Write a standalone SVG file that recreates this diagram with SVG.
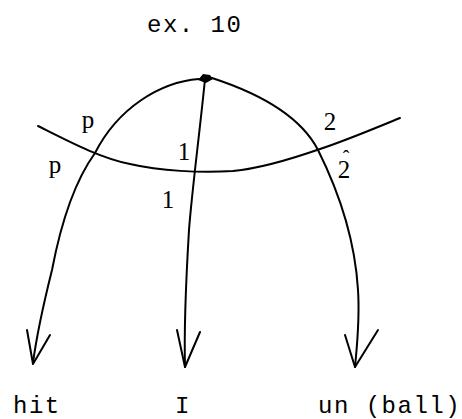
<svg xmlns="http://www.w3.org/2000/svg" width="462" height="419" viewBox="0 0 462 419">
<style>
.ln{fill:none;stroke:#000;stroke-width:2;stroke-linecap:round;stroke-linejoin:round}
.t{font-family:"Liberation Mono","DejaVu Sans Mono",monospace;font-size:24px;letter-spacing:1.5px;fill:#000}
.l{font-family:"Liberation Serif","DejaVu Serif",serif;font-size:25px;fill:#000;text-anchor:middle}
</style>
<rect width="462" height="419" fill="#fff"/>
<text class="t" x="147" y="32">ex. 10</text>
<g id="connectors">
<path class="ln" d="M199,79 C160,82 118,108 95,153 C72,185 60,228 52,270 C42,310 36,340 33,363"/>
<path class="ln" d="M27,330 L33,364 L50,335"/>
<path class="ln" d="M205,79 C200,130 192,190 189,230 C186,280 184,330 185,367"/>
<path class="ln" d="M177,330 L185,367 L200,332"/>
<path class="ln" d="M212,78 C255,92 300,115 318,150 C338,190 355,240 358,290 C360,320 357,345 355,367"/>
<path class="ln" d="M345,335 L355,367 L378,330"/>
<path class="ln" d="M38,126 C70,142 100,158 130,164 C160,171 200,173 233,171 C265,168 300,156 320,149 C350,139 380,126 400,118"/>
</g>
<g id="root"><path d="M198,80 L203,74 L210,75 L213,79 L206,83 Z" fill="#000"/></g>
<g id="labels">
<text class="l" x="88" y="128">p</text>
<text class="l" x="55" y="173">p</text>
<text class="l" x="184" y="160">1</text>
<text class="l" x="168" y="208">1</text>
<text class="l" x="330" y="130">2</text>
<text class="l" x="344" y="178">2<tspan x="346" y="165" font-size="20">ˆ</tspan></text>
</g>
<g id="hit"><text class="t" x="13" y="413">hit</text></g>
<g id="I"><text class="t" x="175" y="413">I</text></g>
<g id="unball"><text class="t" x="318" y="413">un (ball)</text></g>
</svg>
